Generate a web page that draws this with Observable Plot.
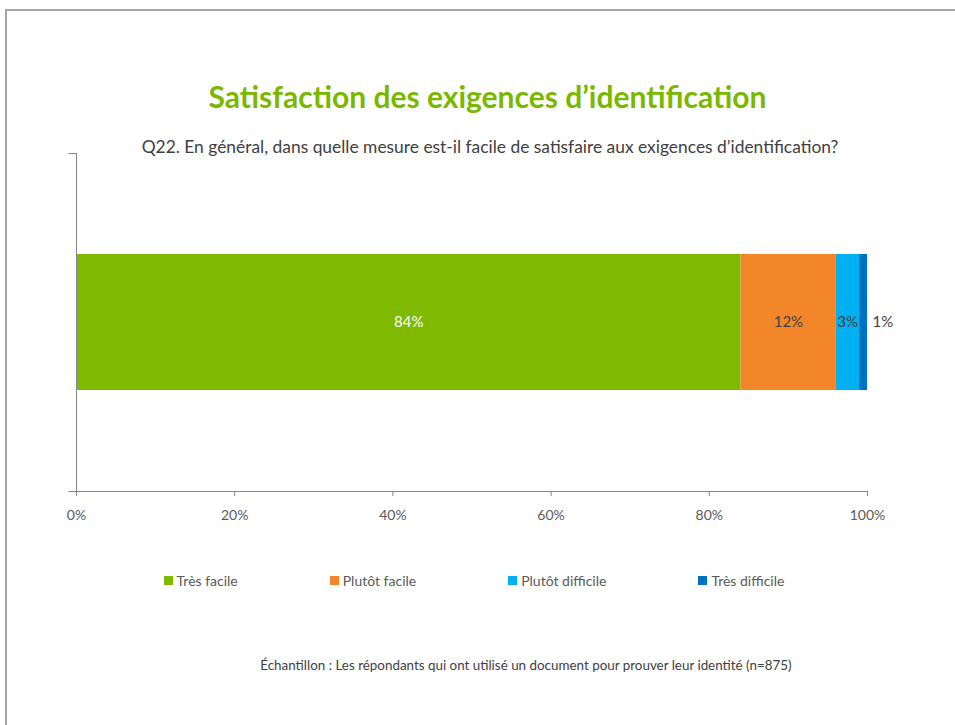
<!DOCTYPE html>
<html>
<head>
<meta charset="utf-8">
<script src="https://cdn.jsdelivr.net/npm/d3@7"></script>
<script src="https://cdn.jsdelivr.net/npm/@observablehq/plot@0.6"></script>
<style>
  html, body { margin: 0; padding: 0; background: #fff; }
  #page { position: relative; width: 955px; height: 725px; overflow: hidden; font-family: Lato, "Liberation Sans", Arial, sans-serif; }
  #border { position: absolute; left: 5px; top: 9px; width: 960px; height: 730px; border-top: 2px solid #a6a6a6; border-left: 2px solid #a6a6a6; }
  #title { position: absolute; top: 78px; left: 0; width: 975px; text-align: center; color: #7ab800; font-weight: bold; font-size: 30px; }
  #subtitle { position: absolute; top: 136px; left: 0; width: 980px; text-align: center; color: #404040; font-size: 17.4px; }
  #chart { position: absolute; top: 140px; left: 0; }
  #legend { position: absolute; top: 572px; left: 0; width: 948px; display: flex; justify-content: center; gap: 92px; font-size: 14px; color: #595959; }
  #legend .item { display: flex; align-items: center; }
  #legend .sw { width: 9px; height: 9px; margin-right: 4px; }
  #caption { position: absolute; top: 657px; left: 0; width: 1052px; text-align: center; font-size: 13.4px; color: #404040; }
</style>
</head>
<body>
<div id="page">
  <div id="border"></div>
  <div id="title">Satisfaction des exigences d’identification</div>
  <div id="subtitle">Q22. En général, dans quelle mesure est-il facile de satisfaire aux exigences d’identification?</div>
  <div id="chart"></div>
  <div id="legend"></div>
  <div id="caption">Échantillon : Les répondants qui ont utilisé un document pour prouver leur identité (n=875)</div>
</div>
<script>
const question = "Q22";
const levels = ["Très facile", "Plutôt facile", "Plutôt difficile", "Très difficile"];
const values = [84, 12, 3, 1];
const colors = ["#7fba00", "#f4862a", "#00b0f0", "#0070c0"];
const labelColors = ["#ffffff", "#404040", "#404040", "#404040"];
const xTicks = [0, 20, 40, 60, 80, 100];

// Build the stacked table from the arrays (cumulative sums)
let acc = 0;
const table = levels.map((level, i) => {
  const x1 = acc;
  acc += values[i];
  return { q: question, level, value: values[i], x1, x2: acc, i };
});

const yAxisTicks = (index, scales, values, dim) => {
  const g = d3.create("svg:g").attr("stroke", "#868686").attr("stroke-width", 1);
  const x0 = dim.marginLeft + 0.5;
  [dim.marginTop + 0.5, dim.height - dim.marginBottom + 0.5].forEach(y => {
    g.append("line").attr("x1", x0 - 8).attr("x2", x0).attr("y1", y).attr("y2", y);
  });
  return g.node();
};

const chart = Plot.plot({
  width: 955,
  height: 400,
  marginLeft: 76,
  marginRight: 88,
  marginTop: 13,
  marginBottom: 49,
  style: { fontFamily: "Lato, 'Liberation Sans', Arial, sans-serif", fontSize: "14px", background: "transparent" },
  x: { domain: [0, 100] },
  y: { domain: [question], padding: 0.426 },
  color: { domain: levels, range: colors },
  marks: [
    Plot.barX(table, { x1: "x1", x2: "x2", y: "q", fill: "level" }),
    Plot.text(table.filter(d => d.value >= 2), {
      x: d => (d.x1 + d.x2) / 2, y: "q", text: d => d.value + "%",
      fill: d => labelColors[d.i], fontSize: 15
    }),
    Plot.text(table.filter(d => d.value < 2), {
      x: "x2", y: "q", text: d => d.value + "%", textAnchor: "start", dx: 5,
      fill: d => labelColors[d.i], fontSize: 15
    }),
    Plot.ruleX([0], { stroke: "#868686" }),
    Plot.axisX({
      ticks: xTicks, tickFormat: d => d + "%", tickSize: 5, tickPadding: 14,
      stroke: "#868686", color: "#595959", fontSize: 14
    }),
    Plot.frame({ anchor: "bottom", stroke: "#868686" }),
    Plot.axisY({ ticks: [], label: null }),
    yAxisTicks
  ]
});
document.getElementById("chart").appendChild(chart);

const legend = document.getElementById("legend");
levels.forEach((level, i) => {
  const item = document.createElement("div");
  item.className = "item";
  const sw = document.createElement("span");
  sw.className = "sw";
  sw.style.background = colors[i];
  const t = document.createElement("span");
  t.textContent = level;
  item.appendChild(sw);
  item.appendChild(t);
  legend.appendChild(item);
});
</script>
</body>
</html>
